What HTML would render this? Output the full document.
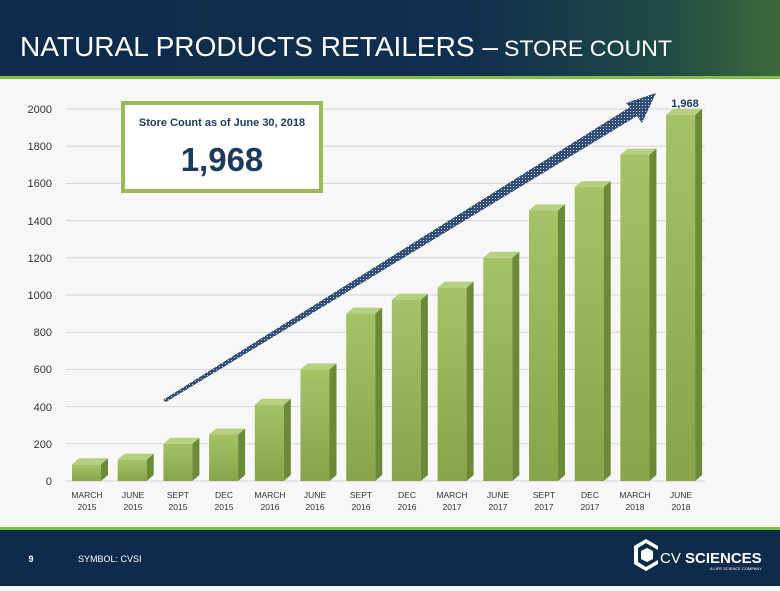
<!DOCTYPE html>
<html><head><meta charset="utf-8"><style>
body{margin:0;width:780px;height:586px;overflow:hidden;background:#f7f7f7;font-family:"Liberation Sans",sans-serif}
</style></head><body>
<svg width="780" height="586" viewBox="0 0 780 586" xmlns="http://www.w3.org/2000/svg" font-family="Liberation Sans, sans-serif">
<defs>
<linearGradient id="hd" x1="0" x2="1" y1="0" y2="0">
<stop offset="0" stop-color="#0f2b4b"/><stop offset="0.6" stop-color="#112f4e"/><stop offset="0.85" stop-color="#1f4a45"/><stop offset="1" stop-color="#3d6a3a"/></linearGradient>
<linearGradient id="fr" x1="0" x2="0" y1="0" y2="1"><stop offset="0" stop-color="#a4c266"/><stop offset="1" stop-color="#86a548"/></linearGradient>
<pattern id="dots" width="3" height="3" patternUnits="userSpaceOnUse"><rect width="3" height="3" fill="#1c3a66"/><rect width="1" height="1" fill="#c9d3e0"/></pattern>
</defs>
<rect x="0" y="0" width="780" height="76" fill="url(#hd)"/>
<rect x="0" y="76" width="780" height="3" fill="#7cc242"/>
<text x="20" y="56" font-size="28" fill="#fff" textLength="478" lengthAdjust="spacingAndGlyphs">NATURAL PRODUCTS RETAILERS –</text>
<text x="504" y="56" font-size="22" fill="#fff" textLength="168" lengthAdjust="spacingAndGlyphs">STORE COUNT</text>
<g stroke="#d6d6d6" stroke-width="1">
<line x1="66" x2="705" y1="481" y2="481"/><line x1="66" x2="705" y1="443.8" y2="443.8"/><line x1="66" x2="705" y1="406.6" y2="406.6"/><line x1="66" x2="705" y1="369.4" y2="369.4"/><line x1="66" x2="705" y1="332.2" y2="332.2"/><line x1="66" x2="705" y1="295" y2="295"/><line x1="66" x2="705" y1="257.8" y2="257.8"/><line x1="66" x2="705" y1="220.6" y2="220.6"/><line x1="66" x2="705" y1="183.4" y2="183.4"/><line x1="66" x2="705" y1="146.2" y2="146.2"/><line x1="66" x2="705" y1="109" y2="109"/>
</g>
<g font-size="11" fill="#333" text-anchor="end">
<text x="52" y="485">0</text><text x="52" y="448">200</text><text x="52" y="411">400</text><text x="52" y="373">600</text><text x="52" y="336">800</text><text x="52" y="299">1000</text><text x="52" y="262">1200</text><text x="52" y="225">1400</text><text x="52" y="187">1600</text><text x="52" y="150">1800</text><text x="52" y="113">2000</text>
</g>
<g>
<g transform="translate(72,464.3)"><rect width="29" height="16.7" fill="url(#fr)"/><polygon points="29,0 36,-6 36,10.7 29,16.7" fill="#6b8a35"/><polygon points="0,0 7,-6 36,-6 29,0" fill="#b7d07f"/></g>
<g transform="translate(117.7,459.6)"><rect width="29" height="21.4" fill="url(#fr)"/><polygon points="29,0 36,-6 36,15.4 29,21.4" fill="#6b8a35"/><polygon points="0,0 7,-6 36,-6 29,0" fill="#b7d07f"/></g>
<g transform="translate(163.4,443.8)"><rect width="29" height="37.2" fill="url(#fr)"/><polygon points="29,0 36,-6 36,31.2 29,37.2" fill="#6b8a35"/><polygon points="0,0 7,-6 36,-6 29,0" fill="#b7d07f"/></g>
<g transform="translate(209.1,434.5)"><rect width="29" height="46.5" fill="url(#fr)"/><polygon points="29,0 36,-6 36,40.5 29,46.5" fill="#6b8a35"/><polygon points="0,0 7,-6 36,-6 29,0" fill="#b7d07f"/></g>
<g transform="translate(254.8,404.7)"><rect width="29" height="76.3" fill="url(#fr)"/><polygon points="29,0 36,-6 36,70.3 29,76.3" fill="#6b8a35"/><polygon points="0,0 7,-6 36,-6 29,0" fill="#b7d07f"/></g>
<g transform="translate(300.5,369.4)"><rect width="29" height="111.6" fill="url(#fr)"/><polygon points="29,0 36,-6 36,105.6 29,111.6" fill="#6b8a35"/><polygon points="0,0 7,-6 36,-6 29,0" fill="#b7d07f"/></g>
<g transform="translate(346.2,313.6)"><rect width="29" height="167.4" fill="url(#fr)"/><polygon points="29,0 36,-6 36,161.4 29,167.4" fill="#6b8a35"/><polygon points="0,0 7,-6 36,-6 29,0" fill="#b7d07f"/></g>
<g transform="translate(391.9,299.6)"><rect width="29" height="181.4" fill="url(#fr)"/><polygon points="29,0 36,-6 36,175.4 29,181.4" fill="#6b8a35"/><polygon points="0,0 7,-6 36,-6 29,0" fill="#b7d07f"/></g>
<g transform="translate(437.6,287.6)"><rect width="29" height="193.4" fill="url(#fr)"/><polygon points="29,0 36,-6 36,187.4 29,193.4" fill="#6b8a35"/><polygon points="0,0 7,-6 36,-6 29,0" fill="#b7d07f"/></g>
<g transform="translate(483.3,257.8)"><rect width="29" height="223.2" fill="url(#fr)"/><polygon points="29,0 36,-6 36,217.2 29,223.2" fill="#6b8a35"/><polygon points="0,0 7,-6 36,-6 29,0" fill="#b7d07f"/></g>
<g transform="translate(529,210.4)"><rect width="29" height="270.6" fill="url(#fr)"/><polygon points="29,0 36,-6 36,264.6 29,270.6" fill="#6b8a35"/><polygon points="0,0 7,-6 36,-6 29,0" fill="#b7d07f"/></g>
<g transform="translate(574.7,187.1)"><rect width="29" height="293.9" fill="url(#fr)"/><polygon points="29,0 36,-6 36,287.9 29,293.9" fill="#6b8a35"/><polygon points="0,0 7,-6 36,-6 29,0" fill="#b7d07f"/></g>
<g transform="translate(620.4,154.6)"><rect width="29" height="326.4" fill="url(#fr)"/><polygon points="29,0 36,-6 36,320.4 29,326.4" fill="#6b8a35"/><polygon points="0,0 7,-6 36,-6 29,0" fill="#b7d07f"/></g>
<g transform="translate(666.1,114.9)"><rect width="29" height="366.1" fill="url(#fr)"/><polygon points="29,0 36,-6 36,360.1 29,366.1" fill="#6b8a35"/><polygon points="0,0 7,-6 36,-6 29,0" fill="#b7d07f"/></g>
</g>
<polygon points="163,400 630,107 626,103 656,93 642,123 637,116 166,402" fill="url(#dots)" opacity="0.9"/>
<text x="685" y="107" font-size="11" font-weight="bold" fill="#1c3a66" text-anchor="middle">1,968</text>
<g font-size="8.5" fill="#333" text-anchor="middle">
<text x="87" y="498">MARCH</text><text x="87" y="510">2015</text>
<text x="133" y="498">JUNE</text><text x="133" y="510">2015</text>
<text x="178" y="498">SEPT</text><text x="178" y="510">2015</text>
<text x="224" y="498">DEC</text><text x="224" y="510">2015</text>
<text x="270" y="498">MARCH</text><text x="270" y="510">2016</text>
<text x="315" y="498">JUNE</text><text x="315" y="510">2016</text>
<text x="361" y="498">SEPT</text><text x="361" y="510">2016</text>
<text x="407" y="498">DEC</text><text x="407" y="510">2016</text>
<text x="452" y="498">MARCH</text><text x="452" y="510">2017</text>
<text x="498" y="498">JUNE</text><text x="498" y="510">2017</text>
<text x="544" y="498">SEPT</text><text x="544" y="510">2017</text>
<text x="590" y="498">DEC</text><text x="590" y="510">2017</text>
<text x="635" y="498">MARCH</text><text x="635" y="510">2018</text>
<text x="681" y="498">JUNE</text><text x="681" y="510">2018</text>
</g>
<rect x="123" y="103" width="198" height="88" fill="#fff" stroke="#9bbb59" stroke-width="4"/>
<text x="222" y="126" font-size="11" font-weight="bold" fill="#1c3a5e" text-anchor="middle">Store Count as of June 30, 2018</text>
<text x="222" y="171" font-size="33" font-weight="bold" fill="#1c3a5e" text-anchor="middle">1,968</text>
<rect x="0" y="527" width="780" height="3" fill="#7cc242"/>
<rect x="0" y="530" width="780" height="56" fill="#0f2b4b"/>
<text x="31" y="562" font-size="9" font-weight="bold" fill="#fff" text-anchor="middle">9</text>
<text x="78" y="562" font-size="9" fill="#fff">SYMBOL: CVSI</text>
<polygon points="634,546 646,539 658,546 658,550 646,543 638,548 638,562 646,567 658,560 658,564 646,571 634,564" fill="#fff"/>
<polygon points="641,551 647,548 653,551 653,559 647,562 641,559" fill="#fff"/>
<text x="660" y="563" font-size="15" fill="#fff">CV</text>
<text x="685" y="563" font-size="15" font-weight="bold" fill="#fff">SCIENCES</text>
<text x="710" y="570" font-size="4" fill="#fff">A LIFE SCIENCE COMPANY</text>
</svg>
</body></html>
